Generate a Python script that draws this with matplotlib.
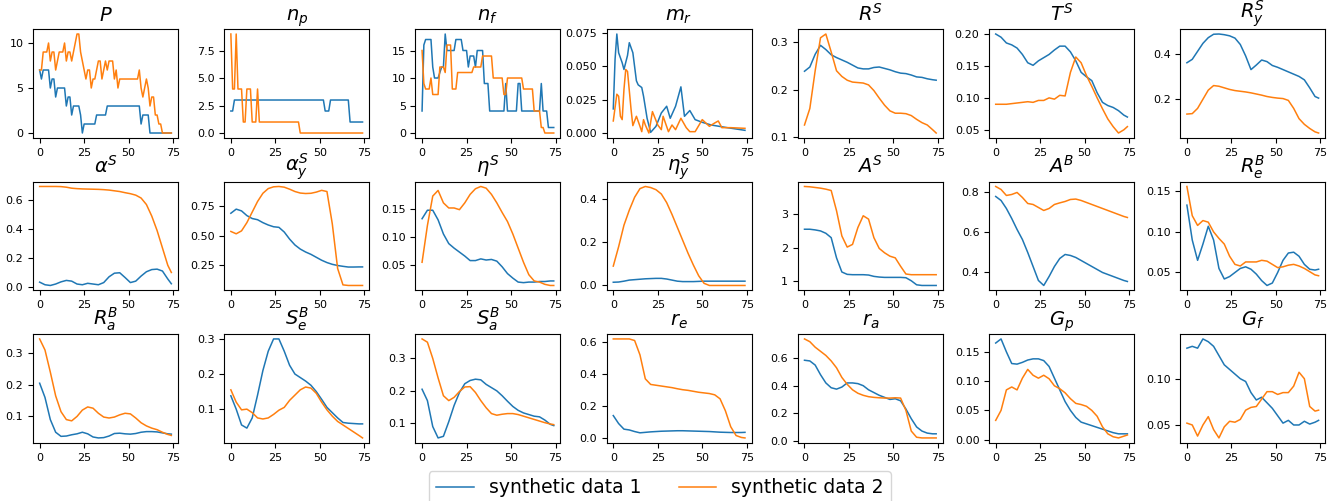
#!/usr/bin/env python3
"""Grid of 21 small line charts comparing two synthetic data runs."""

import matplotlib
matplotlib.use("Agg")
import matplotlib.pyplot as plt

BLUE = "#1f77b4"
ORANGE = "#ff7f0e"

# Every step for the integer-valued series, every third step for the smooth ones.
X_STEP = list(range(75))
X_GRID = list(range(0, 73, 3)) + [74]

# ── integer series ──────────────────────────────────────────────────────────
P_1 = [7, 6, 7, 7, 7, 7, 5, 6, 6, 4, 5, 5, 5, 5, 5, 3, 4, 4, 2, 3, 3, 3, 3, 2, 0,
       1, 1, 1, 1, 1, 1, 1, 2, 2, 2, 2, 2, 2, 3] + [3] * 18 + [1, 2, 2, 2, 2] + [0] * 13
P_2 = [7, 7, 9, 9, 9, 10, 8, 9, 9, 7, 8, 9, 9, 9, 10, 8, 9, 9, 8, 9, 10, 11, 11, 9, 8,
       7, 6, 7, 7, 5, 6, 6, 7, 8, 8, 6, 7, 8, 7, 8, 8, 8, 6, 7, 5, 6] + [6] * 10 + \
      [7, 5, 4, 5, 6, 5, 3, 4, 4, 2, 2, 1, 1, 0, 0, 0, 0, 0, 0]

NP_1 = [2, 2] + [3] * 51 + [2] * 3 + [3] * 11 + [1] * 8
NP_2 = [9, 4, 4, 9, 4, 4, 4, 1, 1, 4, 4, 4, 1, 1, 1, 4] + [1] * 23 + [0] * 36

NF_1 = [4, 16, 17, 17, 17, 17, 12, 10, 10, 10, 11, 12, 12, 18, 15, 15, 15, 15, 15, 17,
        17, 17, 17, 15, 15, 15, 12, 14, 14, 14, 12, 15, 15, 15, 15, 9, 9, 9] + [4] * 9 + \
       [9] + [4] * 6 + [9, 9] + [4] * 11 + [9, 4, 4, 4] + [1] * 4
NF_2 = [15, 9, 8, 8, 8, 10, 7, 7, 7, 7, 12, 12, 12, 11, 16, 16, 16, 8, 8, 8] + [11] * 9 + \
       [12] * 5 + [14] * 6 + [10] * 6 + [7, 7] + [10] * 9 + [8] * 6 + [4] * 4 + [1, 1] + [0] * 6

# m_r is read at its turning points.
MR_X1 = [0, 1, 2, 3, 5, 6, 8, 9, 11, 13, 14, 16, 17, 19, 21, 24, 27, 30, 32, 35, 38, 40,
         43, 46, 50, 55, 64, 74]
MR_1 = [0.018, 0.055, 0.074, 0.06, 0.0525, 0.0475, 0.058, 0.0675, 0.06, 0.039, 0.036,
        0.034, 0.0275, 0.011, 0.0005, 0.005, 0.015, 0.02, 0.011, 0.02, 0.0345, 0.0125,
        0.0168, 0.01, 0.008, 0.006, 0.004, 0.002]
MR_X2 = [0, 2, 3, 4, 5, 6, 7, 8, 10, 11, 13, 15, 16, 17, 18, 20, 22, 25, 27, 28, 31, 33,
         35, 38, 41, 43, 46, 50, 54, 57, 59, 61, 66, 74]
MR_2 = [0.009, 0.029, 0.0275, 0.0125, 0.01, 0.0325, 0.0475, 0.046, 0.0175, 0.0055,
        0.0125, 0.005, 0.001, 0.01, 0.006, 0.0, 0.016, 0.006, 0.0025, 0.0125, 0.001,
        0.006, 0.0025, 0.011, 0.004, 0.001, 0.001, 0.01, 0.005, 0.0075, 0.009, 0.004,
        0.004, 0.0035]

# ── smooth series, sampled on X_GRID ────────────────────────────────────────
RS_1 = [0.239, 0.248, 0.275, 0.294, 0.285, 0.274, 0.268, 0.263, 0.258, 0.252, 0.246, 0.244, 0.244,
        0.247, 0.248, 0.245, 0.242, 0.238, 0.235, 0.234, 0.231, 0.227, 0.226, 0.223, 0.221, 0.220]
RS_2 = [0.125, 0.16, 0.24, 0.31, 0.318, 0.28, 0.24, 0.228, 0.22, 0.216, 0.215, 0.214, 0.21,
        0.198, 0.182, 0.167, 0.155, 0.15, 0.15, 0.149, 0.145, 0.137, 0.13, 0.125, 0.115, 0.108]

TS_1 = [0.2, 0.195, 0.186, 0.183, 0.178, 0.168, 0.155, 0.151, 0.158, 0.163, 0.168, 0.175, 0.181,
        0.181, 0.172, 0.158, 0.14, 0.133, 0.127, 0.108, 0.093, 0.088, 0.085, 0.08, 0.073, 0.07]
TS_2 = [0.09, 0.09, 0.09, 0.091, 0.092, 0.093, 0.094, 0.093, 0.096, 0.096, 0.1, 0.098, 0.104,
        0.103, 0.14, 0.164, 0.155, 0.135, 0.118, 0.1, 0.083, 0.067, 0.055, 0.045, 0.05, 0.055]

RYS_1 = [0.36, 0.375, 0.41, 0.445, 0.47, 0.485, 0.486, 0.483, 0.478, 0.468, 0.44, 0.39, 0.33,
         0.35, 0.372, 0.365, 0.348, 0.34, 0.33, 0.32, 0.31, 0.3, 0.285, 0.25, 0.212, 0.205]
RYS_2 = [0.135, 0.137, 0.16, 0.2, 0.24, 0.26, 0.257, 0.25, 0.243, 0.238, 0.235, 0.232, 0.228,
         0.223, 0.218, 0.212, 0.208, 0.205, 0.203, 0.195, 0.16, 0.115, 0.09, 0.072, 0.057, 0.052]

AS_1 = [0.033, 0.015, 0.01, 0.02, 0.035, 0.045, 0.04, 0.02, 0.015, 0.025, 0.02, 0.015, 0.03,
        0.07, 0.095, 0.098, 0.065, 0.03, 0.04, 0.075, 0.105, 0.12, 0.123, 0.11, 0.055, 0.022]
AS_2 = [0.695, 0.695, 0.695, 0.695, 0.694, 0.69, 0.683, 0.68, 0.678, 0.677, 0.676, 0.675, 0.673,
        0.67, 0.665, 0.66, 0.652, 0.645, 0.635, 0.615, 0.57, 0.49, 0.39, 0.27, 0.15, 0.1]

AYS_1 = [0.69, 0.725, 0.71, 0.67, 0.645, 0.635, 0.61, 0.59, 0.575, 0.57, 0.53, 0.47, 0.42,
         0.385, 0.36, 0.34, 0.315, 0.29, 0.27, 0.255, 0.245, 0.238, 0.232, 0.232, 0.233, 0.233]
AYS_2 = [0.535, 0.515, 0.54, 0.61, 0.7, 0.79, 0.86, 0.9, 0.915, 0.918, 0.912, 0.895, 0.875,
         0.862, 0.858, 0.86, 0.87, 0.885, 0.875, 0.6, 0.22, 0.08, 0.075, 0.075, 0.075, 0.075]

ES_1 = [0.132, 0.147, 0.147, 0.13, 0.105, 0.088, 0.08, 0.073, 0.066, 0.058, 0.058, 0.061, 0.059,
        0.06, 0.057, 0.047, 0.035, 0.027, 0.02, 0.019, 0.02, 0.02, 0.021, 0.021, 0.022, 0.022]
ES_2 = [0.055, 0.12, 0.172, 0.182, 0.16, 0.151, 0.151, 0.148, 0.16, 0.175, 0.185, 0.189, 0.186,
        0.175, 0.16, 0.143, 0.127, 0.105, 0.08, 0.055, 0.033, 0.022, 0.02, 0.016, 0.014, 0.014]

EYS_1 = [0.015, 0.016, 0.02, 0.025, 0.027, 0.029, 0.031, 0.032, 0.033, 0.033, 0.03, 0.025, 0.02,
         0.018, 0.018, 0.018, 0.019, 0.02, 0.02, 0.02, 0.02, 0.02, 0.02, 0.02, 0.02, 0.02]
EYS_2 = [0.09, 0.18, 0.28, 0.35, 0.41, 0.45, 0.46, 0.455, 0.445, 0.425, 0.385, 0.33, 0.27,
         0.21, 0.15, 0.095, 0.045, 0.01, 0.0, 0.0, 0.0, 0.0, 0.0, 0.0, 0.0, 0.0]

ASB_1 = [2.55, 2.55, 2.53, 2.5, 2.43, 2.3, 1.7, 1.28, 1.21, 1.2, 1.2, 1.2, 1.19,
         1.15, 1.13, 1.12, 1.12, 1.12, 1.12, 1.11, 1.02, 0.9, 0.88, 0.88, 0.88, 0.88]
ASB_2 = [3.82, 3.81, 3.79, 3.77, 3.74, 3.7, 3.1, 2.35, 2.02, 2.1, 2.6, 2.95, 2.85,
         2.3, 1.98, 1.85, 1.75, 1.7, 1.45, 1.22, 1.2, 1.2, 1.2, 1.2, 1.2, 1.2]

AB_1 = [0.78, 0.76, 0.72, 0.67, 0.615, 0.565, 0.5, 0.43, 0.36, 0.335, 0.38, 0.43, 0.47,
        0.49, 0.485, 0.475, 0.46, 0.445, 0.43, 0.415, 0.4, 0.39, 0.38, 0.37, 0.36, 0.355]
AB_2 = [0.83, 0.815, 0.785, 0.79, 0.8, 0.775, 0.745, 0.74, 0.725, 0.71, 0.72, 0.74, 0.748,
        0.755, 0.765, 0.767, 0.76, 0.75, 0.74, 0.73, 0.72, 0.71, 0.7, 0.69, 0.68, 0.675]

REB_1 = [0.133, 0.09, 0.065, 0.085, 0.107, 0.09, 0.055, 0.042, 0.045, 0.05, 0.055, 0.057, 0.054,
         0.048, 0.04, 0.034, 0.037, 0.05, 0.065, 0.074, 0.075, 0.07, 0.06, 0.054, 0.053, 0.054]
REB_2 = [0.156, 0.12, 0.108, 0.114, 0.112, 0.1, 0.092, 0.085, 0.07, 0.06, 0.058, 0.063, 0.063,
         0.063, 0.065, 0.064, 0.06, 0.056, 0.057, 0.059, 0.06, 0.058, 0.055, 0.051, 0.047, 0.046]

RAB_1 = [0.205, 0.16, 0.09, 0.05, 0.037, 0.038, 0.042, 0.045, 0.05, 0.045, 0.035, 0.032, 0.033,
         0.038, 0.046, 0.047, 0.045, 0.044, 0.046, 0.05, 0.052, 0.052, 0.051, 0.048, 0.045, 0.044]
RAB_2 = [0.345, 0.31, 0.24, 0.165, 0.115, 0.09, 0.086, 0.1, 0.12, 0.13, 0.126, 0.11, 0.098,
         0.095, 0.098, 0.105, 0.11, 0.108, 0.095, 0.08, 0.07, 0.063, 0.058, 0.05, 0.043, 0.04]

SEB_1 = [0.138, 0.1, 0.055, 0.046, 0.075, 0.14, 0.21, 0.265, 0.3, 0.3, 0.265, 0.225, 0.2,
         0.19, 0.18, 0.168, 0.15, 0.128, 0.105, 0.09, 0.075, 0.062, 0.06, 0.059, 0.058, 0.058]
SEB_2 = [0.155, 0.12, 0.098, 0.1, 0.09, 0.075, 0.072, 0.075, 0.085, 0.097, 0.105, 0.125, 0.14,
         0.155, 0.163, 0.16, 0.145, 0.12, 0.098, 0.08, 0.065, 0.055, 0.045, 0.035, 0.025, 0.018]

SAB_1 = [0.205, 0.17, 0.09, 0.055, 0.06, 0.105, 0.155, 0.195, 0.222, 0.232, 0.236, 0.234, 0.22,
         0.21, 0.2, 0.185, 0.168, 0.152, 0.14, 0.132, 0.127, 0.122, 0.12, 0.11, 0.097, 0.093]
SAB_2 = [0.36, 0.35, 0.3, 0.24, 0.185, 0.17, 0.18, 0.198, 0.212, 0.213, 0.195, 0.17, 0.148,
         0.13, 0.125, 0.128, 0.13, 0.13, 0.127, 0.122, 0.117, 0.112, 0.107, 0.102, 0.098, 0.096]

RE_1 = [0.14, 0.09, 0.055, 0.05, 0.04, 0.032, 0.035, 0.038, 0.04, 0.042, 0.043, 0.044, 0.045,
        0.045, 0.044, 0.043, 0.042, 0.041, 0.04, 0.038, 0.036, 0.035, 0.034, 0.034, 0.034, 0.035]
RE_2 = [0.62, 0.62, 0.62, 0.62, 0.61, 0.52, 0.37, 0.335, 0.33, 0.325, 0.32, 0.315, 0.308,
        0.302, 0.298, 0.292, 0.286, 0.282, 0.278, 0.27, 0.245, 0.17, 0.07, 0.015, 0.003, 0.0]

RA_1 = [0.585, 0.58, 0.55, 0.48, 0.42, 0.385, 0.375, 0.39, 0.42, 0.42, 0.415, 0.4, 0.37,
        0.35, 0.33, 0.315, 0.3, 0.305, 0.29, 0.23, 0.16, 0.1, 0.07, 0.055, 0.05, 0.05]
RA_2 = [0.74, 0.72, 0.68, 0.65, 0.62, 0.58, 0.53, 0.46, 0.41, 0.37, 0.345, 0.33, 0.32,
        0.315, 0.312, 0.31, 0.31, 0.312, 0.31, 0.22, 0.07, 0.025, 0.02, 0.02, 0.02, 0.02]

GP_1 = [0.165, 0.172, 0.15, 0.13, 0.129, 0.132, 0.136, 0.138, 0.138, 0.135, 0.125, 0.105, 0.085,
        0.065, 0.05, 0.038, 0.03, 0.027, 0.024, 0.021, 0.018, 0.015, 0.012, 0.01, 0.01, 0.01]
GP_2 = [0.033, 0.05, 0.085, 0.09, 0.085, 0.105, 0.12, 0.11, 0.105, 0.11, 0.104, 0.092, 0.087,
        0.08, 0.07, 0.062, 0.06, 0.057, 0.05, 0.04, 0.022, 0.01, 0.005, 0.003, 0.006, 0.008]

GF_1 = [0.133, 0.135, 0.133, 0.143, 0.14, 0.135, 0.125, 0.115, 0.11, 0.105, 0.1, 0.097, 0.085,
        0.077, 0.08, 0.074, 0.068, 0.06, 0.052, 0.055, 0.05, 0.05, 0.054, 0.051, 0.053, 0.055]
GF_2 = [0.052, 0.05, 0.038, 0.05, 0.059, 0.045, 0.036, 0.048, 0.054, 0.053, 0.056, 0.066, 0.069,
        0.07, 0.078, 0.086, 0.086, 0.083, 0.085, 0.085, 0.092, 0.107, 0.1, 0.07, 0.065, 0.066]

LABELS = ["synthetic data 1", "synthetic data 2"]

# (title, x for run 1, run 1, x for run 2, run 2) in row-major order.
PANELS = [
    (r"$P$", X_STEP, P_1, X_STEP, P_2),
    (r"$n_p$", X_STEP, NP_1, X_STEP, NP_2),
    (r"$n_f$", X_STEP, NF_1, X_STEP, NF_2),
    (r"$m_r$", MR_X1, MR_1, MR_X2, MR_2),
    (r"$R^S$", X_GRID, RS_1, X_GRID, RS_2),
    (r"$T^S$", X_GRID, TS_1, X_GRID, TS_2),
    (r"$R^S_y$", X_GRID, RYS_1, X_GRID, RYS_2),
    (r"$\alpha^S$", X_GRID, AS_1, X_GRID, AS_2),
    (r"$\alpha^S_y$", X_GRID, AYS_1, X_GRID, AYS_2),
    (r"$\eta^S$", X_GRID, ES_1, X_GRID, ES_2),
    (r"$\eta^S_y$", X_GRID, EYS_1, X_GRID, EYS_2),
    (r"$A^S$", X_GRID, ASB_1, X_GRID, ASB_2),
    (r"$A^B$", X_GRID, AB_1, X_GRID, AB_2),
    (r"$R^B_e$", X_GRID, REB_1, X_GRID, REB_2),
    (r"$R^B_a$", X_GRID, RAB_1, X_GRID, RAB_2),
    (r"$S^B_e$", X_GRID, SEB_1, X_GRID, SEB_2),
    (r"$S^B_a$", X_GRID, SAB_1, X_GRID, SAB_2),
    (r"$r_e$", X_GRID, RE_1, X_GRID, RE_2),
    (r"$r_a$", X_GRID, RA_1, X_GRID, RA_2),
    (r"$G_p$", X_GRID, GP_1, X_GRID, GP_2),
    (r"$G_f$", X_GRID, GF_1, X_GRID, GF_2),
]


def main() -> None:
    fig, axes = plt.subplots(3, 7, figsize=(13.44, 5.01), dpi=100)
    fig.subplots_adjust(left=0.0246, right=0.986, top=0.942, bottom=0.116,
                        wspace=0.32, hspace=0.4)

    for ax, (title, x1, y1, x2, y2) in zip(axes.flat, PANELS):
        l1, = ax.plot(x1, y1, color=BLUE, linewidth=1.1)
        l2, = ax.plot(x2, y2, color=ORANGE, linewidth=1.1)
        ax.set_title(title, fontsize=14)
        ax.set_xticks([0, 25, 50, 75])
        ax.tick_params(labelsize=8)

    fig.legend([l1, l2], LABELS, loc="upper center", bbox_to_anchor=(0.491, 0.079),
               ncol=2, fontsize=13.5)
    fig.savefig("out.png", dpi=100)
    plt.close(fig)


if __name__ == "__main__":
    main()
